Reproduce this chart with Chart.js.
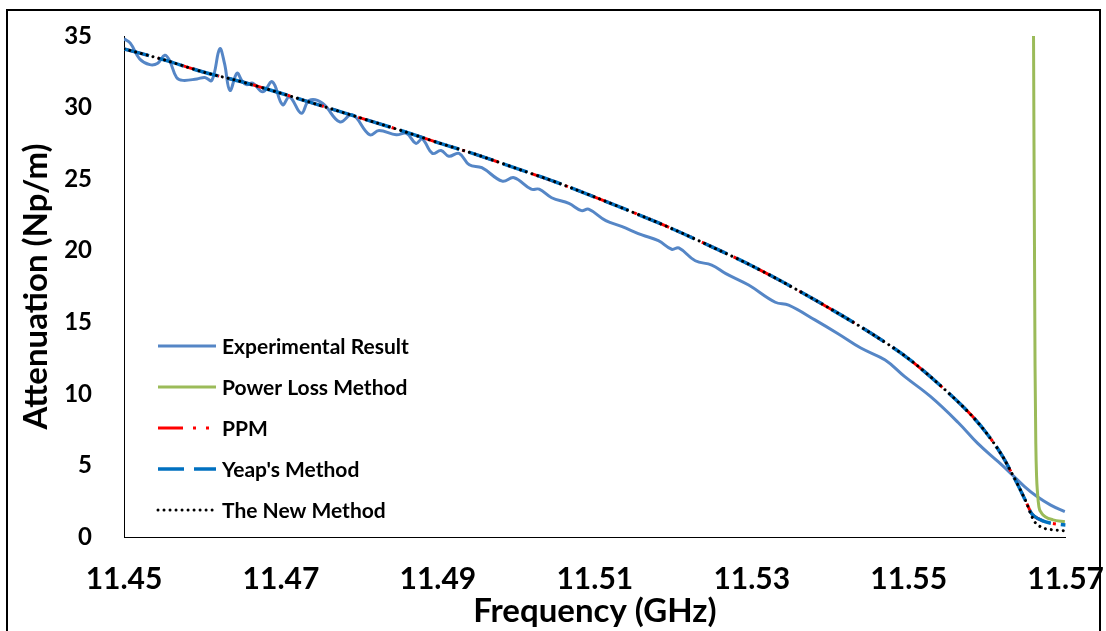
<!DOCTYPE html>
<html lang="en">
<head>
<meta charset="UTF-8">
<title>Attenuation vs Frequency</title>
<script src="https://cdn.jsdelivr.net/npm/chart.js"></script>
<style>
    body {
        margin: 0;
        background: #fff;
    }
    .frame {
        position: relative;
        width: 1106px;
        height: 631px;
        overflow: hidden;
    }
    .frame::after {
        content: '';
        position: absolute;
        left: 6px;
        top: 9px;
        width: 1095px;
        height: 700px;
        border: 2px solid #000;
        box-sizing: border-box;
        pointer-events: none;
    }
    canvas {
        position: absolute;
        left: 0;
        top: 0;
    }
</style>
</head>
<body>

<div class="frame">
    <canvas id="attChart" width="1106" height="631"></canvas>
</div>

<script>
    const expFreq = [11.4500, 11.4508, 11.4520, 11.4533, 11.4543, 11.4552, 11.4558, 11.4567, 11.4575, 11.4593,
        11.4603, 11.4612, 11.4622, 11.4628, 11.4635, 11.4644, 11.4650, 11.4656, 11.4664, 11.4677,
        11.4689, 11.4702, 11.4711, 11.4726, 11.4736, 11.4753, 11.4775, 11.4791, 11.4813, 11.4825,
        11.4847, 11.4860, 11.4872, 11.4880, 11.4893, 11.4904, 11.4914, 11.4927, 11.4940, 11.4956,
        11.4982, 11.4997, 11.5019, 11.5029, 11.5045, 11.5067, 11.5083, 11.5092, 11.5114, 11.5134,
        11.5160, 11.5181, 11.5198, 11.5207, 11.5228, 11.5249, 11.5267, 11.5296, 11.5330, 11.5347,
        11.5381, 11.5410, 11.5439, 11.5470, 11.5495, 11.5528, 11.5563, 11.5588, 11.5614, 11.5630,
        11.5648, 11.5664, 11.5681, 11.5699];
    const expAtten = [34.8, 34.5, 33.4, 33.0, 33.1, 33.66, 33.3, 32.1, 31.9, 32.0,
        32.1, 31.9, 34.1, 33.1, 31.2, 32.4, 31.9, 31.6, 31.7, 31.1,
        31.8, 30.2, 30.75, 29.6, 30.5, 30.3, 29.0, 29.5, 28.1, 28.4,
        28.1, 28.2, 27.5, 27.8, 26.8, 27.0, 26.6, 26.8, 26.0, 25.8,
        24.86, 25.1, 24.3, 24.3, 23.7, 23.3, 22.8, 22.9, 22.1, 21.7,
        21.1, 20.7, 20.1, 20.2, 19.3, 19.0, 18.4, 17.6, 16.4, 16.2,
        15.15, 14.2, 13.2, 12.36, 11.2, 9.8, 8.0, 6.54, 5.26, 4.45,
        3.51, 2.81, 2.23, 1.77];

    // Power loss method (pole near 11.566 GHz)
    const powerFreq = [11.5659, 11.5661, 11.5662, 11.5663, 11.5664, 11.5666, 11.5669, 11.5674, 11.5684, 11.5699];
    const powerLoss = [36, 12, 6.5, 4.2, 3.2, 2.1, 1.7, 1.42, 1.2, 1.07];

    // PPM, Yeap's method and the new method
    const modelFreq = [11.450, 11.455, 11.460, 11.465, 11.470, 11.475, 11.480, 11.485, 11.490, 11.495,
        11.500, 11.505, 11.510, 11.515, 11.520, 11.525, 11.530, 11.535, 11.540, 11.545,
        11.550, 11.555, 11.558, 11.560, 11.562, 11.563, 11.564, 11.565, 11.5656, 11.566,
        11.567, 11.568, 11.569, 11.570];
    const ppmAtten = [34.1, 33.35, 32.5, 31.8, 31.0, 30.15, 29.3, 28.45, 27.55, 26.7,
        25.75, 24.8, 23.75, 22.65, 21.5, 20.25, 18.95, 17.5, 15.95, 14.3,
        12.45, 10.1, 8.5, 7.2, 5.6, 4.6, 3.55, 2.4, 1.7, 1.45,
        1.15, 0.98, 0.9, 0.84];
    const yeapAtten = [34.1, 33.35, 32.5, 31.8, 31.0, 30.15, 29.3, 28.45, 27.55, 26.7,
        25.75, 24.8, 23.75, 22.65, 21.5, 20.25, 18.95, 17.5, 15.95, 14.3,
        12.45, 10.1, 8.5, 7.2, 5.6, 4.6, 3.55, 2.4, 1.68, 1.45,
        1.15, 0.98, 0.9, 0.84];
    const newAtten = [34.1, 33.35, 32.5, 31.8, 31.0, 30.15, 29.3, 28.45, 27.55, 26.7,
        25.75, 24.8, 23.75, 22.65, 21.5, 20.25, 18.95, 17.5, 15.95, 14.3,
        12.45, 10.1, 8.5, 7.2, 5.6, 4.6, 3.55, 2.4, 1.55, 1.1,
        0.66, 0.53, 0.47, 0.43];

    const xTicks = [11.45, 11.47, 11.49, 11.51, 11.53, 11.55, 11.57];
    const yTicks = [0, 5, 10, 15, 20, 25, 30, 35];

    function pts(xs, ys) {
        return xs.map((x, i) => ({ x: x, y: ys[i] }));
    }

    // legend drawn inside the plot area, lower left
    const insideLegend = {
        id: 'insideLegend',
        afterDatasetsDraw(chart) {
            const ctx = chart.ctx;
            const area = chart.chartArea;
            ctx.save();
            ctx.font = 'bold 21px Lato';
            ctx.textBaseline = 'middle';
            ctx.fillStyle = '#000';
            chart.data.datasets.forEach((ds, i) => {
                const x = area.left + 34;
                const y = area.top + 310 + i * 41;
                ctx.beginPath();
                ctx.strokeStyle = ds.borderColor;
                ctx.lineWidth = ds.borderWidth;
                ctx.lineCap = ds.borderCapStyle || 'butt';
                ctx.setLineDash(ds.borderDash || []);
                ctx.moveTo(x, y);
                ctx.lineTo(x + 58, y);
                ctx.stroke();
                ctx.setLineDash([]);
                ctx.fillText(ds.label, x + 64, y + 1);
            });
            ctx.restore();
        }
    };

    const ctx = document.getElementById('attChart').getContext('2d');
    const attChart = new Chart(ctx, {
        type: 'line',
        data: {
            datasets: [
                {
                    label: 'Experimental Result',
                    data: pts(expFreq, expAtten),
                    borderColor: '#5586C6',
                    borderWidth: 3,
                    tension: 0.4,
                    order: 5
                },
                {
                    label: 'Power Loss Method',
                    data: pts(powerFreq, powerLoss),
                    borderColor: '#9BBB59',
                    borderWidth: 3,
                    cubicInterpolationMode: 'monotone',
                    order: 4
                },
                {
                    label: 'PPM',
                    data: pts(modelFreq, ppmAtten),
                    borderColor: '#FF0000',
                    borderWidth: 3,
                    borderDash: [25, 10, 3, 10, 3, 10],
                    cubicInterpolationMode: 'monotone',
                    order: 3
                },
                {
                    label: "Yeap's Method",
                    data: pts(modelFreq, yeapAtten),
                    borderColor: '#0070C0',
                    borderWidth: 3.5,
                    borderDash: [26, 10],
                    cubicInterpolationMode: 'monotone',
                    order: 2
                },
                {
                    label: 'The New Method',
                    data: pts(modelFreq, newAtten),
                    borderColor: '#000000',
                    borderWidth: 3,
                    borderDash: [0.01, 6],
                    borderCapStyle: 'round',
                    cubicInterpolationMode: 'monotone',
                    order: 1
                }
            ]
        },
        options: {
            responsive: false,
            animation: false,
            elements: { point: { radius: 0 } },
            layout: { padding: { left: 0, right: 38, top: 36, bottom: 0 } },
            plugins: {
                legend: { display: false },
                tooltip: { enabled: false }
            },
            scales: {
                x: {
                    type: 'linear',
                    min: 11.45,
                    max: 11.57,
                    afterBuildTicks: scale => { scale.ticks = xTicks.map(v => ({ value: v })); },
                    afterFit: scale => { scale.height = 94; },
                    grid: { display: true, drawOnChartArea: false, drawTicks: true, tickLength: 22, tickColor: 'rgba(0,0,0,0)' },
                    border: { display: true, color: '#000', width: 1 },
                    ticks: {
                        padding: 2,
                        maxRotation: 0,
                        color: '#000',
                        font: { family: 'Lato', size: 30, weight: 'bold' },
                        callback: v => v.toFixed(2)
                    },
                    title: {
                        display: true,
                        text: 'Frequency (GHz)',
                        color: '#000',
                        padding: { top: 0, bottom: 0 },
                        font: { family: 'Lato', size: 33, weight: 'bold' }
                    }
                },
                y: {
                    min: 0,
                    max: 35,
                    afterBuildTicks: scale => { scale.ticks = yTicks.map(v => ({ value: v })); },
                    afterFit: scale => { scale.width = 124; },
                    grid: { display: true, drawOnChartArea: false, drawTicks: true, tickLength: 30, tickColor: 'rgba(0,0,0,0)' },
                    border: { display: true, color: '#000', width: 1 },
                    ticks: {
                        padding: 2,
                        color: '#000',
                        font: { family: 'Lato', size: 24, weight: 'bold' }
                    },
                    title: {
                        display: true,
                        text: 'Attenuation (Np/m)',
                        color: '#000',
                        padding: { top: 17, bottom: 0 },
                        font: { family: 'Lato', size: 33, weight: 'bold' }
                    }
                }
            }
        },
        plugins: [insideLegend]
    });
</script>

</body>
</html>
